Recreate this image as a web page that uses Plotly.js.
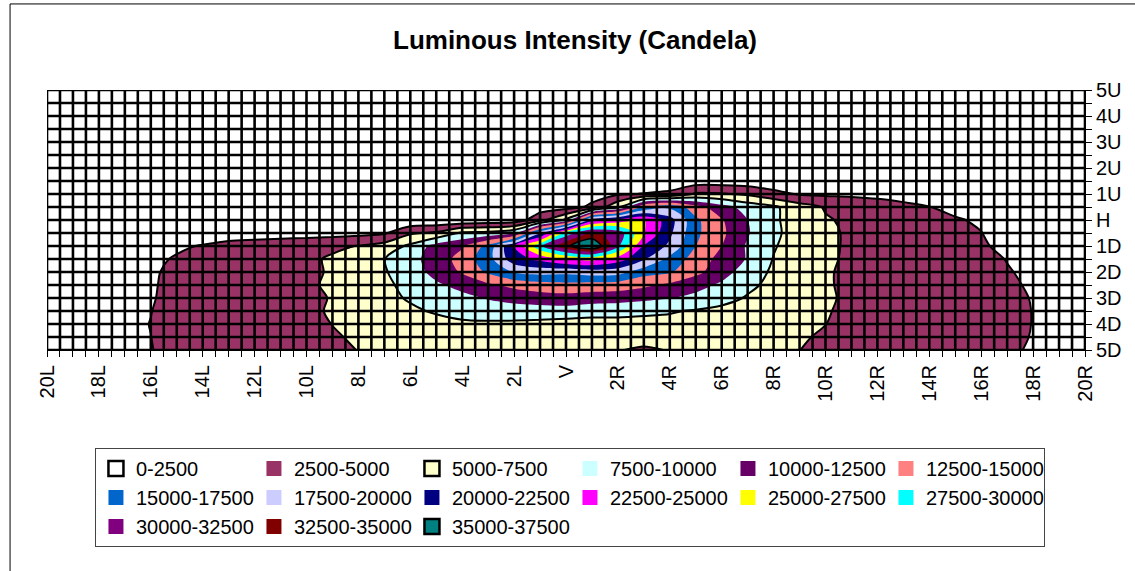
<!DOCTYPE html>
<html>
<head>
<meta charset="utf-8">
<script src="https://cdn.plot.ly/plotly-3.0.1.min.js"></script>
<style>
html,body{margin:0;padding:0;background:#fff;}
#chart{width:1135px;height:571px;}
</style>
</head>
<body>
<div id="chart"></div>
<script>
// Horizontal angles (degrees, L negative / R positive) and vertical angles (D negative / U positive)
const hAngles = [-20,-19,-18,-17,-16,-15,-14,-13,-12,-11,-10,-9,-8,-7,-6,-5,-4,-3,-2,-1,0,1,2,3,4,5,6,7,8,9,10,11,12,13,14,15,16,17,18,19,20];
const vAngles = [-5,-4.5,-4,-3.5,-3,-2.5,-2,-1.5,-1,-0.5,0,0.5,1,1.5,2,2.5,3,3.5,4,4.5,5];

// Luminous intensity (cd) per vertical angle row, columns follow hAngles
const r5U  = [0,0,0,0,0,0,0,0,0,0, 0,0,0,40,40,50,50,60,60,70, 70,80,80,80,80,80,80,70,70,60, 60,50,50,40,40,0,0,0,0,0, 0];
const r4_5U= [0,0,0,0,0,0,0,0,0,0, 0,0,40,50,50,60,60,70,70,80, 90,90,100,100,100,100,90,90,80,70, 70,60,60,50,40,40,0,0,0,0, 0];
const r4U  = [0,0,0,0,0,0,0,0,0,40, 40,50,50,60,60,70,80,90,100,110, 120,120,130,130,130,130,120,110,100,90, 80,70,60,50,50,40,40,0,0,0, 0];
const r3_5U= [0,0,0,0,0,0,0,40,40,50, 50,60,70,80,90,100,110,120,130,150, 160,170,180,180,180,170,160,150,140,120, 110,100,80,70,60,50,40,40,0,0, 0];
const r3U  = [0,0,0,0,0,40,40,50,60,70, 80,90,100,110,120,140,160,180,200,220, 240,260,280,300,300,290,270,250,220,200, 170,150,120,100,80,70,60,50,40,0, 0];
const r2_5U= [0,0,0,40,50,60,70,80,90,100, 110,120,140,160,180,200,230,260,300,340, 380,420,460,500,500,480,450,420,380,330, 280,240,200,170,140,110,90,70,50,40, 0];
const r2U  = [0,40,50,60,70,80,90,100,120,140, 160,180,200,220,250,280,320,360,420,480, 550,620,700,780,780,760,720,680,620,550, 480,420,360,300,250,200,160,120,90,60, 40];
const r1_5U= [50,60,70,80,100,110,130,150,180,200, 230,260,290,320,360,400,450,500,550,650, 700,900,1100,1100,1200,1200,1200,1100,900,850, 800,700,650,600,500,400,300,250,200,150, 100];
const r1U  = [100,100,100,150,150,200,200,250,300,300, 350,350,400,400,450,500,550,600,650,800, 1000,1500,2200,2600,2950,5300,5200,4600,3200,2300, 2100,2000,1800,1500,1200,900,700,500,300,200, 100];
const r0_5U= [100,100,100,150,150,200,200,250,300,300, 350,400,400,450,450,500,600,700,900,1200, 1500,3000,7000,15000,17000,13500,11000,9000,7900,6100, 4800,4200,3700,3100,2550,1900,1400,900,600,300, 200];
const rH   = [100,100,100,150,150,200,200,200,250,250, 250,300,300,350,400,500,600,700,1000,4200, 8000,21500,23500,25300,21000,15500,12700,10000,8000,6000, 5200,4600,4200,3800,3300,2700,2200,1200,700,400, 200];
const r0_5D= [100,100,200,300,400,500,700,900,1000,1200, 1300,1500,1800,2200,4700,5400,7900,8300,9500,19500, 28500,33000,31500,25200,20500,15500,13000,10200,8000,6400, 5400,4700,4400,4100,3700,3300,2550,1500,900,500, 200];
const r1D  = [100,300,500,900,1400,2000,2700,3500,3900,4200, 4400,4700,5050,6000,8000,11000,12200,15800,22500,29500, 34500,37500,30500,22300,19500,15000,12500,9700,7700,6300, 5400,4700,4400,4100,3800,3400,2800,1900,1200,700, 300];
const r1_5D= [200,400,700,1300,1800,2800,3600,3900,4100,4400, 4700,5200,6200,7450,9300,11000,13500,16500,21500,23200, 25100,25800,23800,20300,16800,13900,11700,9800,7400,6100, 5300,4700,4400,4200,3900,3500,3300,2400,1400,800, 300];
const r2D  = [200,500,800,1600,2100,3200,3800,4100,4300,4500, 4800,5100,6100,7300,8800,10800,12800,15500,17700,18400, 18200,18800,18500,16000,15300,13200,11000,8800,7100,5900, 5200,4600,4400,4200,4000,3700,3300,2700,1900,1100, 400];
const r2_5D= [200,500,900,1700,2200,3300,3900,4200,4400,4600, 4850,5150,6100,7100,8100,9600,10800,12000,13200,14000, 14300,14000,13800,13000,12000,10800,9600,8000,6900,5900, 5200,4600,4400,4200,4000,3800,3500,2900,2200,1200, 500];
const r3D  = [200,500,900,1800,2300,3300,3900,4200,4400,4600, 4800,5050,6200,7000,7700,8500,9300,10200,10800,11200, 11500,11200,11000,10600,10100,9400,8300,7300,6600,5900, 5300,4600,4400,4200,4000,3800,3500,3000,2400,1300, 500];
const r3_5D= [200,500,1000,1900,2450,3400,3900,4200,4400,4600, 4800,5100,5800,6600,7200,7700,8300,8700,8900,9000, 9000,8500,8400,8000,7700,7300,6900,6500,6000,5600, 5150,4550,4400,4200,4000,3800,3500,3100,2450,1300, 500];
const r4D  = [200,500,1000,1900,2550,3500,3900,4100,4300,4500, 4700,5020,5600,6200,6600,6900,7100,7100,7000,6800, 6500,6500,6600,6700,6800,6700,6500,6200,5900,5500, 5020,4600,4400,4200,4000,3800,3500,3100,2450,1300, 500];
const r4_5D= [200,400,900,1700,2480,3500,3900,4100,4200,4400, 4600,4850,5200,5600,5900,6100,6200,6100,6000,5900, 5800,5800,5600,5400,5800,6000,6000,5900,5600,5250, 4700,4400,4200,4000,3800,3600,3300,3000,2400,1300, 500];
const r5D  = [200,400,800,1500,2400,3400,3800,4000,4100,4300, 4500,4800,5020,5300,5500,5600,5700,5600,5400,5300, 5300,5100,5050,4850,5050,5300,5500,5400,5200,5010, 4700,4400,4200,4000,3800,3500,3200,2800,2300,1200, 500];

// Bands (legend) and their colours
const bandLabels = ['0-2500','2500-5000','5000-7500','7500-10000','10000-12500','12500-15000','15000-17500','17500-20000','20000-22500','22500-25000','25000-27500','27500-30000','30000-32500','32500-35000','35000-37500'];
const bandColors = ['#FFFFFF','#993366','#FFFFCC','#CCFFFF','#660066','#FF8080','#0066CC','#CCCCFF','#000080','#FF00FF','#FFFF00','#00FFFF','#800080','#800000','#008080'];
const bandBordered = [true,false,true,false,false,false,false,false,false,false,false,false,false,false,true];

// Axis tick labels
const xTickVals = [-20,-18,-16,-14,-12,-10,-8,-6,-4,-2,0,2,4,6,8,10,12,14,16,18,20];
const xTickText = ['20L','18L','16L','14L','12L','10L','8L','6L','4L','2L','V','2R','4R','6R','8R','10R','12R','14R','16R','18R','20R'];
const yTickVals = [-5,-4,-3,-2,-1,0,1,2,3,4,5];
const yTickText = ['5D','4D','3D','2D','1D','H','1U','2U','3U','4U','5U'];

const rows = [r5D,r4_5D,r4D,r3_5D,r3D,r2_5D,r2D,r1_5D,r1D,r0_5D,rH,r0_5U,r1U,r1_5U,r2U,r2_5U,r3U,r3_5U,r4U,r4_5U,r5U];
rows.forEach(function(r,i){ if(r.length!==hAngles.length) throw new Error('row '+i+' has '+r.length+' values'); });

const FONT = 'Liberation Sans, Arial, sans-serif';
const SMOOTH = 0.85;
const STEP = 2500;

function stepScale(colors){
  const n = colors.length, out = [];
  colors.forEach(function(c,j){
    const lo = j===0 ? 0 : (j-0.5)/(n-1);
    const hi = j===n-1 ? 1 : (j+0.5)/(n-1);
    out.push([lo,c]); out.push([hi,c]);
  });
  return out;
}

const traces = [];
// 1) full coloured contour (bottom)
traces.push({type:'contour', x:hAngles, y:vAngles, z:rows, autocontour:false,
  contours:{start:STEP, end:STEP*14, size:STEP, coloring:'fill', showlines:false},
  zmin:0, zmax:STEP*15, colorscale:stepScale(bandColors), showscale:false,
  line:{width:0, smoothing:SMOOTH}, hoverinfo:'skip', showlegend:false});

// 2) wireframe grid (every 0.5 degree), visible through the bordered bands
const gx = [], gy = [];
for(let v=-20; v<=20.001; v+=0.5){ gx.push(v,v,null); gy.push(-5,5,null); }
for(let v=-5; v<=5.001; v+=0.5){ gx.push(-20,20,null); gy.push(v,v,null); }
traces.push({type:'scatter', mode:'lines', x:gx, y:gy, line:{color:'#000', width:2.6},
  hoverinfo:'skip', showlegend:false});

// 3) 2500-5000 band drawn over the grid
const zBand = rows.map(function(r){ return r.map(function(v){ return Math.min(v-STEP, 2*STEP-v); }); });
traces.push({type:'contour', x:hAngles, y:vAngles, z:zBand, autocontour:false,
  contours:{start:0, end:0, size:1, coloring:'fill', showlines:false},
  zmin:-1, zmax:1, colorscale:[[0,'rgba(0,0,0,0)'],[0.5,'rgba(0,0,0,0)'],[0.5,bandColors[1]],[1,bandColors[1]]],
  showscale:false, line:{width:0, smoothing:SMOOTH}, hoverinfo:'skip', showlegend:false});

// 4) bands >= 7500 drawn over the grid
traces.push({type:'contour', x:hAngles, y:vAngles, z:rows, autocontour:false,
  contours:{start:STEP*3, end:STEP*14, size:STEP, coloring:'fill', showlines:false},
  zmin:STEP*2, zmax:STEP*15, colorscale:stepScale(['rgba(0,0,0,0)'].concat(bandColors.slice(3))),
  showscale:false, line:{width:0, smoothing:SMOOTH}, hoverinfo:'skip', showlegend:false});

// 5) borders of the bordered bands
traces.push({type:'contour', x:hAngles, y:vAngles, z:rows, autocontour:false,
  contours:{start:STEP, end:STEP*3, size:STEP, coloring:'none', showlabels:false},
  line:{color:'#000', width:2, smoothing:SMOOTH}, showscale:false, hoverinfo:'skip', showlegend:false});
traces.push({type:'contour', x:hAngles, y:vAngles, z:rows, autocontour:false,
  contours:{start:STEP*14, end:STEP*14, size:STEP, coloring:'none', showlabels:false},
  line:{color:'#000', width:1.5, smoothing:SMOOTH}, showscale:false, hoverinfo:'skip', showlegend:false});

// legend entries
bandLabels.forEach(function(lbl,k){
  traces.push({type:'scatter', mode:'markers', x:[null], y:[null], name:lbl, showlegend:true,
    marker:{symbol:'square', size:15, color:bandColors[k],
      line:{color: bandBordered[k] ? '#000' : bandColors[k], width: bandBordered[k] ? 2.5 : 0}},
    hoverinfo:'skip'});
});

const layout = {
  width:1135, height:571,
  margin:{l:47, r:50, t:90, b:221},
  paper_bgcolor:'#fff', plot_bgcolor:'#fff',
  font:{family:FONT, color:'#000'},
  title:{text:'Luminous Intensity (Candela)', x:0.5087, xref:'paper', xanchor:'center', y:0.93, yanchor:'middle',
    font:{family:FONT, size:26, weight:'bold', color:'#000'}},
  xaxis:{range:[-20,20], tickmode:'array', tickvals:xTickVals, ticktext:xTickText, tickangle:-90,
    ticks:'outside', ticklen:6, tickcolor:'#000', tickwidth:1, showgrid:false, zeroline:false,
    showline:true, linecolor:'#000', linewidth:1, tickfont:{family:FONT, size:20, color:'#000'},
    minor:{tickmode:'linear', tick0:0, dtick:0.5, ticks:'outside', ticklen:6, tickcolor:'#000', tickwidth:1, showgrid:false},
    fixedrange:true},
  yaxis:{range:[-5,5], side:'right', tickmode:'array', tickvals:yTickVals, ticktext:yTickText,
    ticks:'outside', ticklen:6, tickcolor:'#000', tickwidth:1, showgrid:false, zeroline:false,
    showline:true, linecolor:'#000', linewidth:1, tickfont:{family:FONT, size:20, color:'#000'},
    minor:{tickmode:'linear', tick0:0, dtick:0.5, ticks:'outside', ticklen:6, tickcolor:'#000', tickwidth:1, showgrid:false},
    fixedrange:true},
  showlegend:true,
  legend:{orientation:'h', x:0.0462, xanchor:'left', y:-0.377, yanchor:'top',
    bgcolor:'#fff', bordercolor:'#444', borderwidth:1, traceorder:'normal',
    entrywidth:113, entrywidthmode:'pixels',
    font:{family:FONT, size:20, color:'#000'}},
  shapes:[
    {type:'line', xref:'paper', yref:'paper', x0:-0.0356, x1:-0.0356, y0:-0.9, y1:1.331, line:{color:'#000', width:1}},
    {type:'line', xref:'paper', yref:'paper', x0:-0.0356, x1:1.06, y0:1.331, y1:1.331, line:{color:'#000', width:1}}
  ],
  hovermode:false
};

Plotly.newPlot('chart', traces, layout, {displayModeBar:false, staticPlot:true});
</script>
</body>
</html>
